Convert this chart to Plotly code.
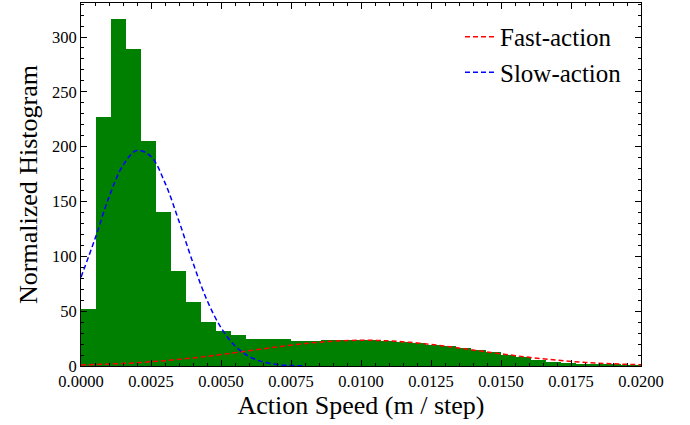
import plotly.graph_objects as go

# Histogram data (normalized density per bin), bins start at 0
bin_width = 0.000536
hist_heights = [52, 227, 316, 289, 205, 140, 87, 58, 40, 32, 28.5,
                24.6, 24.6, 24.6, 22.8, 22.8, 23.7, 23.7, 23.7,
                23.4, 22.8, 21.8, 20.8, 19.2, 17.8, 16.2, 14.3, 12.4, 10.3,
                7.8, 5.6, 4.1, 3.0, 2.1, 1.5, 1.1, 0.8, 0.6]

# Fitted curves
fast_x = [0.000, 0.001, 0.002, 0.003, 0.004, 0.005, 0.006, 0.007, 0.008, 0.009, 0.010,
          0.011, 0.012, 0.013, 0.014, 0.015, 0.016, 0.017, 0.018, 0.019, 0.020]
fast_y = [1.0, 1.8, 3.0, 4.9, 7.3, 10.4, 13.9, 17.4, 20.5, 22.6, 23.5,
          22.9, 21.0, 18.1, 14.6, 11.1, 7.9, 5.3, 3.3, 2.0, 1.1]

slow_x = [0.0000, 0.0005, 0.0010, 0.0015, 0.0020, 0.0025, 0.0030, 0.0035, 0.0040,
          0.0045, 0.0050, 0.0055, 0.0060, 0.0065, 0.0070, 0.0075, 0.0080]
slow_y = [81, 116, 154, 183, 196.6, 191, 167, 132, 94,
          60, 35, 18.3, 8.7, 3.7, 1.4, 0.5, 0.15]

bin_centers = [(i + 0.5) * bin_width for i in range(len(hist_heights))]

fig = go.Figure()
fig.add_trace(go.Bar(x=bin_centers, y=hist_heights, width=[bin_width] * len(hist_heights),
                     marker=dict(color="#008000", line=dict(width=0)), showlegend=False))
fig.add_trace(go.Scatter(x=fast_x, y=fast_y, mode="lines", name="Fast-action",
                         line=dict(color="red", dash="5px,3px", width=1.5, shape="spline")))
fig.add_trace(go.Scatter(x=slow_x, y=slow_y, mode="lines", name="Slow-action",
                         line=dict(color="blue", dash="5px,3px", width=1.5, shape="spline")))

font_family = "Liberation Serif"
fig.update_layout(
    width=690, height=425,
    margin=dict(l=81, r=49, t=3, b=59),
    plot_bgcolor="white", paper_bgcolor="white",
    bargap=0,
    font=dict(family=font_family, color="black"),
    legend=dict(x=0.975, y=0.97, xanchor="right", yanchor="top",
                bgcolor="rgba(0,0,0,0)", font=dict(size=25, family=font_family),
                tracegroupgap=0),
)
fig.update_xaxes(
    range=[0, 0.02], tickformat=".4f", dtick=0.0025, tick0=0,
    showline=True, linecolor="black", linewidth=1, mirror="allticks",
    ticks="inside", ticklen=6, tickcolor="black", tickwidth=1,
    minor=dict(ticks="inside", ticklen=3, dtick=0.0005, tickcolor="black", tickwidth=1),
    showgrid=False, zeroline=False,
    tickfont=dict(size=16.5, family=font_family),
    title=dict(text="Action Speed (m / step)", font=dict(size=26, family=font_family), standoff=6),
)
fig.update_yaxes(
    range=[0, 331], dtick=50, tick0=0,
    showline=True, linecolor="black", linewidth=1, mirror="allticks",
    ticks="inside", ticklen=6, tickcolor="black", tickwidth=1,
    minor=dict(ticks="inside", ticklen=3, dtick=10, tickcolor="black", tickwidth=1),
    showgrid=False, zeroline=False,
    tickfont=dict(size=16.5, family=font_family),
    title=dict(text="Normalized Histogram", font=dict(size=26, family=font_family), standoff=6),
)

fig.write_html("out.html", config={"displayModeBar": False},
               post_script="document.body.style.margin='0';")
